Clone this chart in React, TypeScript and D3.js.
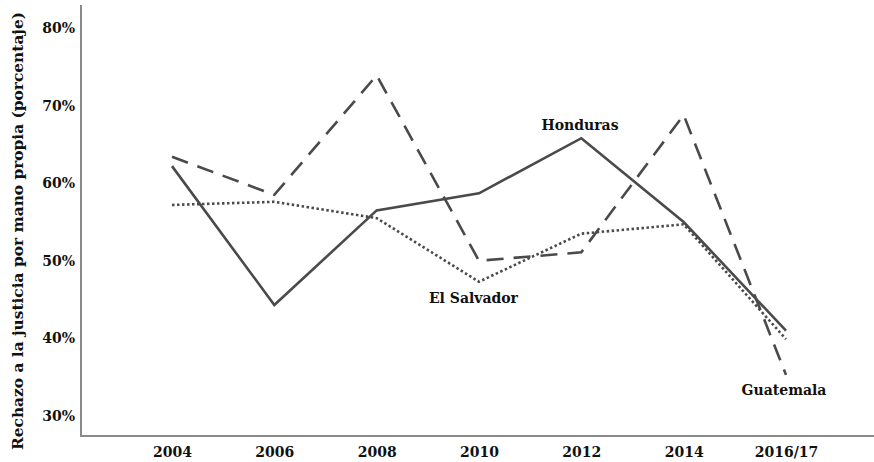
import { useEffect, useRef } from 'react';
import * as d3 from 'd3';

const years = ['2004', '2006', '2008', '2010', '2012', '2014', '2016/17'];
const honduras = [62.2, 44.3, 56.5, 58.7, 65.8, 55.0, 41.0];
const guatemala = [63.4, 58.5, 73.9, 50.0, 51.1, 68.8, 35.3];
const elSalvador = [57.2, 57.6, 55.5, 47.3, 53.5, 54.7, 39.9];
const yTicks = [30, 40, 50, 60, 70, 80];

const font = '"DejaVu Serif", serif';
const ink = '#4a4a4a';

export default function App(): JSX.Element {
  const svgRef = useRef<SVGSVGElement>(null);

  useEffect(() => {
    if (!svgRef.current) return;
    svgRef.current.innerHTML = '';
    const width = 874;
    const height = 462;
    const axisX = 81;
    const axisY = 436;

    const x = d3.scalePoint<string>(years, [172, 786]);
    const y = d3.scaleLinear([30, 80], [416, 28]);

    const svg = d3
      .select(svgRef.current)
      .attr('width', width)
      .attr('height', height)
      .attr('viewBox', [0, 0, width, height]);

    // axis lines
    svg
      .append('line')
      .attr('x1', axisX)
      .attr('x2', axisX)
      .attr('y1', 5)
      .attr('y2', axisY)
      .attr('stroke', '#8a8a8a')
      .attr('stroke-width', 2);
    svg
      .append('line')
      .attr('x1', axisX - 1)
      .attr('x2', width)
      .attr('y1', axisY)
      .attr('y2', axisY)
      .attr('stroke', '#8a8a8a')
      .attr('stroke-width', 2);

    // y tick labels
    svg
      .append('g')
      .attr('transform', `translate(${axisX},0)`)
      .call(
        d3
          .axisLeft(y)
          .tickValues(yTicks)
          .tickSize(0)
          .tickPadding(6)
          .tickFormat((d) => `${d}%`)
      )
      .call((g) => g.select('.domain').remove())
      .call((g) =>
        g
          .selectAll('text')
          .attr('font-family', font)
          .attr('font-weight', 'bold')
          .attr('font-size', 14)
          .attr('fill', '#111')
      );

    // x tick labels
    svg
      .append('g')
      .attr('transform', `translate(0,${axisY})`)
      .call(d3.axisBottom(x).tickSize(0).tickPadding(11))
      .call((g) => g.select('.domain').remove())
      .call((g) =>
        g
          .selectAll('text')
          .attr('font-family', font)
          .attr('font-weight', 'bold')
          .attr('font-size', 14)
          .attr('fill', '#111')
      );

    // y title
    svg
      .append('text')
      .attr('transform', 'translate(23,231) rotate(-90)')
      .attr('text-anchor', 'middle')
      .attr('font-family', font)
      .attr('font-weight', 'bold')
      .attr('font-size', 15.4)
      .attr('fill', '#111')
      .text('Rechazo a la justicia por mano propia (porcentaje)');

    const line = d3
      .line<number>()
      .x((_, i) => x(years[i]) as number)
      .y((d) => y(d));

    const series = [
      { values: elSalvador, dash: '2.5,2.5' },
      { values: guatemala, dash: '17,10' },
      { values: honduras, dash: null },
    ];

    series.forEach((s) => {
      svg
        .append('path')
        .attr('fill', 'none')
        .attr('stroke', ink)
        .attr('stroke-width', 2.6)
        .attr('stroke-dasharray', s.dash)
        .attr('d', line(s.values));
    });

    // series labels
    const labels = [
      { text: 'Honduras', x: 580, y: 130, anchor: 'middle' },
      { text: 'El Salvador', x: 518, y: 303, anchor: 'end' },
      { text: 'Guatemala', x: 784, y: 395, anchor: 'middle' },
    ];
    svg
      .selectAll('labels')
      .data(labels)
      .enter()
      .append('text')
      .attr('x', (d) => d.x)
      .attr('y', (d) => d.y)
      .attr('text-anchor', (d) => d.anchor)
      .attr('font-family', font)
      .attr('font-weight', 'bold')
      .attr('font-size', 14)
      .attr('fill', '#111')
      .text((d) => d.text);
  }, []);

  return (
    <div style={{ position: 'absolute', left: 0, top: 0 }}>
      <svg ref={svgRef} style={{ display: 'block' }} />
    </div>
  );
}
